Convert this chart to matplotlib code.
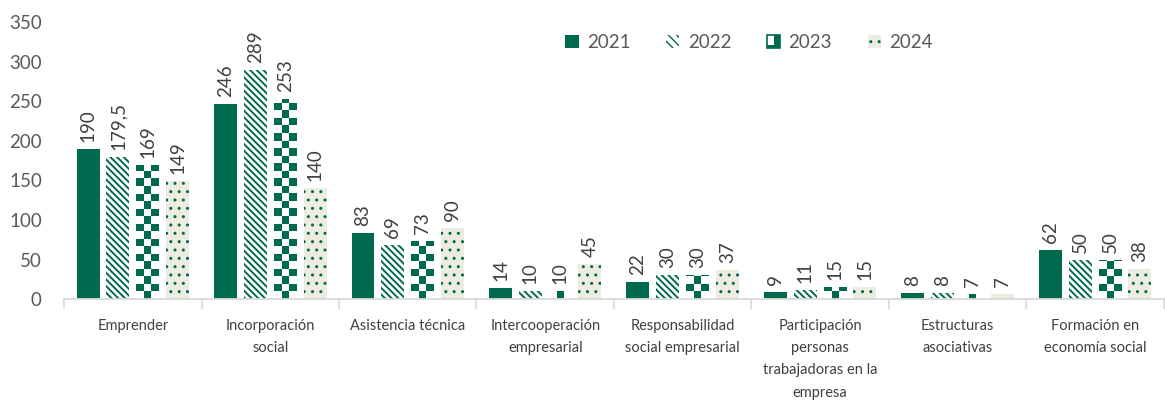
import numpy as np
import matplotlib
matplotlib.use("Agg")
import matplotlib.pyplot as plt
from matplotlib.colors import ListedColormap
from matplotlib.patches import Rectangle, Patch
from matplotlib.legend_handler import HandlerBase

# --- data ---
categories = [
    "Emprender",
    "Incorporación\nsocial",
    "Asistencia técnica",
    "Intercooperación\nempresarial",
    "Responsabilidad\nsocial empresarial",
    "Participación\npersonas\ntrabajadoras en la\nempresa",
    "Estructuras\nasociativas",
    "Formación en\neconomía social",
]
years = ["2021", "2022", "2023", "2024"]
v2021 = [190, 246, 83, 14, 22, 9, 8, 62]
v2022 = [179.5, 289, 69, 10, 30, 11, 8, 50]
v2023 = [169, 253, 73, 10, 30, 15, 7, 50]
v2024 = [149, 140, 90, 45, 37, 15, 7, 38]
yticks = [0, 50, 100, 150, 200, 250, 300, 350]

GREEN = "#006A4E"
BEIGE = "#EEEBE0"
TXT = "#404040"
TICK = "#595959"
GRID = "#D9D9D9"

plt.rcParams['font.family'] = ['Lato', 'DejaVu Sans']

HATCH22 = "\\" * 5


def fmt(v):
    if float(v).is_integer():
        return str(int(v))
    return str(v).replace(".", ",")


class HandlerChecker(HandlerBase):
    def create_artists(self, legend, orig_handle, xdescent, ydescent,
                       width, height, fontsize, trans):
        s = height
        x0 = -xdescent
        y0 = -ydescent
        arts = [Rectangle((x0, y0), s, s, facecolor="white", edgecolor=GREEN,
                          linewidth=1.2, transform=trans)]
        h = s / 2
        arts.append(Rectangle((x0 + h, y0), h, h, facecolor=GREEN, edgecolor="none", transform=trans))
        arts.append(Rectangle((x0 + h, y0 + h), h, h, facecolor=GREEN, edgecolor="none", transform=trans))
        arts.append(Rectangle((x0, y0), h, h * 0.5, facecolor=GREEN, edgecolor="none", transform=trans))
        return arts


fig = plt.figure(figsize=(11.65, 4.01), dpi=100)
ax = fig.add_axes([0.055, 0.254, 0.944, 0.691])

x = np.arange(len(categories))
bw = 0.167
pitch = 0.217
offs = [-1.5 * pitch, -0.5 * pitch, 0.5 * pitch, 1.5 * pitch]

b1 = ax.bar(x + offs[0], v2021, bw, color=GREEN, linewidth=0)

with plt.rc_context({"hatch.linewidth": 1.4, "hatch.color": GREEN}):
    b2 = ax.bar(x + offs[1], v2022, bw, facecolor="white", edgecolor=GREEN,
                hatch=HATCH22, linewidth=0)

b3 = ax.bar(x + offs[2], v2023, bw, facecolor="white", linewidth=0)

with plt.rc_context({"hatch.linewidth": 1.0, "hatch.color": GREEN}):
    b4 = ax.bar(x + offs[3], v2024, bw, facecolor=BEIGE, edgecolor=GREEN,
                hatch="..", linewidth=0)

# checkerboard fill for 2023
cmap = ListedColormap(["white", GREEN])
cell_h = 9.5
for bar in b3:
    x0 = bar.get_x()
    w = bar.get_width()
    h = bar.get_height()
    nrows = int(np.ceil(h / cell_h)) + 1
    grid = (np.add.outer(np.arange(nrows), np.arange(3)) % 2).astype(float)
    im = ax.imshow(grid, cmap=cmap, vmin=0, vmax=1, origin="lower",
                   extent=[x0, x0 + w, 0, nrows * cell_h], aspect="auto",
                   interpolation="nearest", zorder=1.5)
    im.set_clip_path(bar)

for cont, vals in [(b1, v2021), (b2, v2022), (b3, v2023), (b4, v2024)]:
    ax.bar_label(cont, labels=[fmt(v) for v in vals], rotation=90, padding=5,
                 fontsize=13.5, color=TXT)

ax.set_xlim(-0.5, len(categories) - 0.5)
ax.set_ylim(0, 350)
ax.set_yticks(yticks)
ax.tick_params(axis="y", length=0, labelsize=13.5, labelcolor=TICK, pad=16)

ax.set_xticks(x)
ax.set_xticklabels(categories, fontsize=10.5, color=TXT, linespacing=1.76)
ax.set_xticks(np.arange(len(categories) + 1) - 0.5, minor=True)
ax.tick_params(axis="x", which="major", length=0, pad=14)
ax.tick_params(axis="x", which="minor", length=7, width=1.2, color=GRID)

for s in ["top", "right", "left"]:
    ax.spines[s].set_visible(False)
ax.spines["bottom"].set_color(GRID)
ax.spines["bottom"].set_linewidth(1.3)

checker_handle = Patch(facecolor="white")
with plt.rc_context({"hatch.linewidth": 2.0}):
    h22 = Patch(facecolor="white", edgecolor=GREEN, hatch="\\\\\\\\", linewidth=0)
handles = [
    Patch(facecolor=GREEN, linewidth=0),
    h22,
    checker_handle,
    Patch(facecolor=BEIGE, edgecolor=GREEN, hatch="..", linewidth=0),
]
leg = fig.legend(handles, years, loc="center", bbox_to_anchor=(0.643, 0.893),
                 ncol=4, frameon=False, fontsize=13.5, handlelength=0.7,
                 handleheight=0.7, handletextpad=0.45, columnspacing=1.9,
                 labelcolor=TICK,
                 handler_map={checker_handle: HandlerChecker()})

fig.savefig("out.png", dpi=100)
